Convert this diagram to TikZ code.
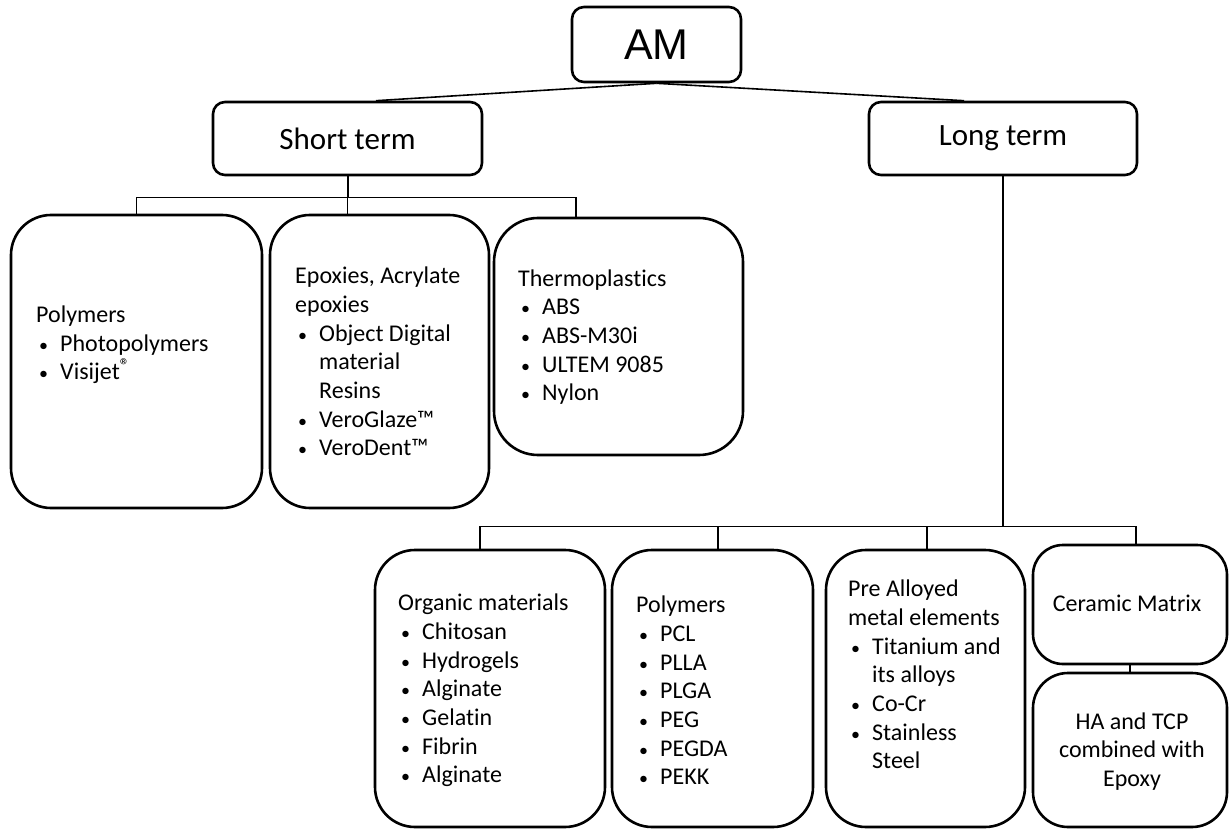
\documentclass[tikz,border=0pt]{standalone}
\usepackage{fontspec}
\setmainfont{Carlito}[Ligatures=NoCommon]
\newfontfamily\amfont{Liberation Sans}
\newcommand\itm{\makebox[24pt][l]{\hspace{3pt}{\fontsize{18}{18}\selectfont\textbullet}}}
\newcommand\cnt{\hspace*{24pt}}
\begin{document}
\begin{tikzpicture}[x=1pt,y=-1pt,
  bx/.style={draw, line width=2.6pt, inner sep=0pt, rounded corners=#1},
  bx/.default=40pt,
  conn/.style={line width=1.3pt},
  txt/.style={inner sep=0pt, align=left, font=\fontsize{24}{28.7}\selectfont},
]
\fill[white] (0,0) rectangle (1229,829);
\useasboundingbox (0,0) rectangle (1229,829);

% top level
\node[bx=12pt, minimum width=169pt, minimum height=75pt] (am) at (656.5,44.5) {\amfont\fontsize{43}{43}\selectfont AM};
\node[bx=12pt, minimum width=269pt, minimum height=73pt, font=\fontsize{31}{33}\selectfont] (st) at (347.5,138.5) {Short term};
\node[bx=12pt, minimum width=268pt, minimum height=73pt, font=\fontsize{31}{33}\selectfont] (lt) at (1003,138.5) {Long term};

% short-term boxes
\node[bx, minimum width=251pt, minimum height=293pt] (b1) at (136.5,361.5) {};
\node[bx, minimum width=219pt, minimum height=293pt] (b2) at (379.5,361.5) {};
\node[bx=44pt, minimum width=249pt, minimum height=237pt] (b3) at (618.5,336.5) {};

\node[txt, anchor=west] (t1) at (36,345) {Polymers\\ \itm Photopolymers\\ \itm Visijet\raisebox{0.3em}{\fontsize{20}{20}\selectfont ®}};
\node[txt, anchor=west] (t2) at (295,361.5) {Epoxies, Acrylate\\epoxies\\ \itm Object Digital\\ \cnt material\\ \cnt Resins\\ \itm VeroGlaze™\\ \itm VeroDent™};
\node[txt, anchor=west] (t3) at (518,337) {Thermoplastics\\ \itm ABS\\ \itm ABS-M30i\\ \itm ULTEM 9085\\ \itm Nylon};

% long-term boxes
\node[bx, minimum width=230pt, minimum height=277pt] (o) at (490,688.5) {};
\node[bx, minimum width=201pt, minimum height=277pt] (p) at (712.5,688.5) {};
\node[bx, minimum width=199pt, minimum height=277pt] (m) at (925.5,688.5) {};
\node[bx=30pt, minimum width=194pt, minimum height=119pt] (c) at (1130,604.5) {};
\node[bx=35pt, minimum width=194pt, minimum height=154pt] (h) at (1130,750) {};

\node[txt, anchor=west] (to) at (398,690.5) {Organic materials\\ \itm Chitosan\\ \itm Hydrogels\\ \itm Alginate\\ \itm Gelatin\\ \itm Fibrin\\ \itm Alginate};
\node[txt, anchor=west] (tp) at (636,690.5) {Polymers\\ \itm PCL\\ \itm PLLA\\ \itm PLGA\\ \itm PEG\\ \itm PEGDA\\ \itm PEKK};
\node[txt, anchor=west] (tm) at (848,674.5) {Pre Alloyed\\metal elements\\ \itm Titanium and\\ \cnt its alloys\\ \itm Co-Cr\\ \itm Stainless\\ \cnt Steel};
\node[txt] (tc) at (1127,603) {Ceramic Matrix};
\node[txt, align=center] (th) at (1132,751.5) {HA and TCP\\combined with\\Epoxy};

% connectors
\draw[line width=1.6pt] (am.south) -- ([xshift=28.5pt]st.north);
\draw[line width=1.6pt] (am.south) -- ([xshift=-39pt]lt.north);

\draw[line width=2pt] (st.south) -- ++(0,21) coordinate (sb);
\draw[conn] (sb) -| (b1.north);
\draw[conn] (sb) -- (sb |- b2.north);
\draw[conn] (sb) -| ([xshift=-42.5pt]b3.north);

\draw[conn] (lt.south) -- ++(0,350) coordinate (lb);
\draw[conn] (lb) -| ([xshift=-10pt]o.north);
\draw[conn] (lb) -| ([xshift=5.5pt]p.north);
\draw[conn] (lb) -| ([xshift=1.5pt]m.north);
\draw[conn] (lb) -| ([xshift=6pt]c.north);
\draw[conn] (c.south) -- (h.north);
\end{tikzpicture}
\end{document}
